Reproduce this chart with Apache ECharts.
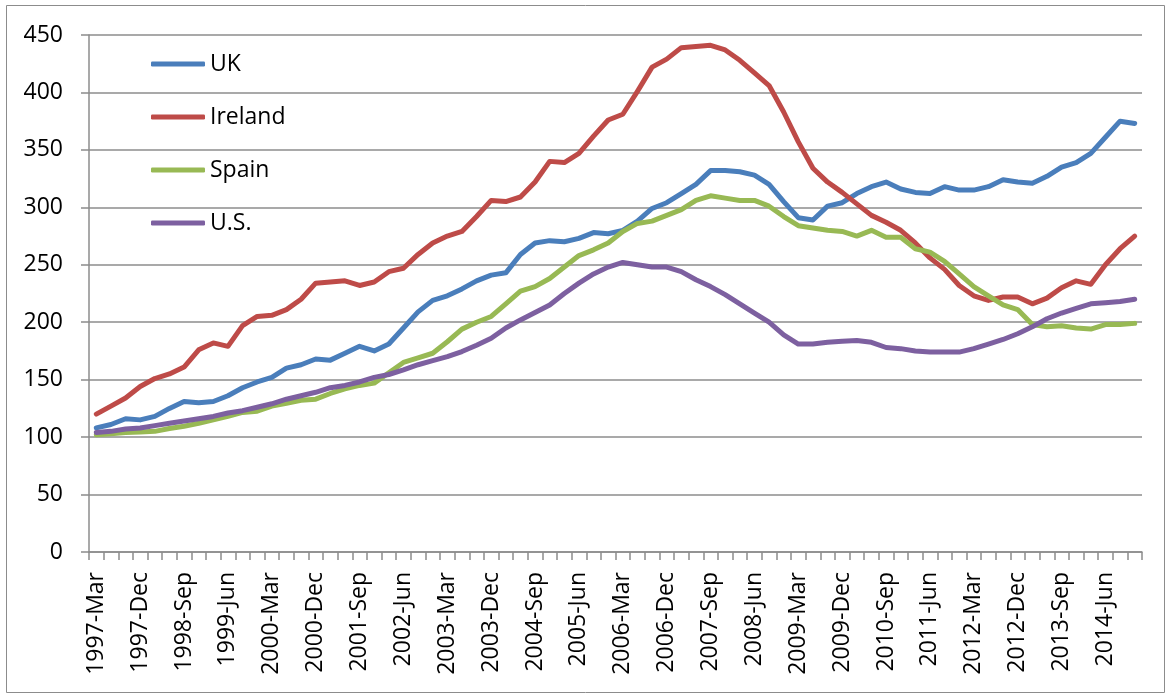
<!DOCTYPE html>
<html>
<head>
<meta charset="utf-8">
<script src="https://cdn.jsdelivr.net/npm/echarts@6/dist/echarts.min.js"></script>
<style>
html,body{margin:0;padding:0;background:#fff;}
#chart{width:1170px;height:697px;}
</style>
</head>
<body>
<div id="chart"></div>
<script>
const categories = [
"1997-Mar","1997-Jun","1997-Sep","1997-Dec",
"1998-Mar","1998-Jun","1998-Sep","1998-Dec",
"1999-Mar","1999-Jun","1999-Sep","1999-Dec",
"2000-Mar","2000-Jun","2000-Sep","2000-Dec",
"2001-Mar","2001-Jun","2001-Sep","2001-Dec",
"2002-Mar","2002-Jun","2002-Sep","2002-Dec",
"2003-Mar","2003-Jun","2003-Sep","2003-Dec",
"2004-Mar","2004-Jun","2004-Sep","2004-Dec",
"2005-Mar","2005-Jun","2005-Sep","2005-Dec",
"2006-Mar","2006-Jun","2006-Sep","2006-Dec",
"2007-Mar","2007-Jun","2007-Sep","2007-Dec",
"2008-Mar","2008-Jun","2008-Sep","2008-Dec",
"2009-Mar","2009-Jun","2009-Sep","2009-Dec",
"2010-Mar","2010-Jun","2010-Sep","2010-Dec",
"2011-Mar","2011-Jun","2011-Sep","2011-Dec",
"2012-Mar","2012-Jun","2012-Sep","2012-Dec",
"2013-Mar","2013-Jun","2013-Sep","2013-Dec",
"2014-Mar","2014-Jun","2014-Sep","2014-Dec"
];

const uk = [108,111,116,115,118,125,131,130,131,136,143,148,152,
  160,163,168,167,173,179,175,181,195,209,219,223,
  229,236,241,243,259,269,271,270,273,278,277,280,288,
  299,304,312,320,332,332,331,328,320,305,
  291,289,301,304,312,318,322,316,313,312,318,315,
  315,318,324,322,321,327,335,339,347,361,375,373];

const ireland = [120,127,134,144,151,155,161,176,182,179,197,205,206,
  211,220,234,235,236,232,235,244,247,259,269,275,
  279,292,306,305,309,322,340,339,347,362,376,381,401,
  422,429,439,440,441,437,428,417,406,383,
  357,334,322,313,303,293,287,280,269,256,246,232,
  223,219,222,222,216,221,230,236,233,250,264,275];

const spain = [102,103,104,104.5,105,107.5,109.5,112,115,118,121.5,122.5,127,
  129.5,132,133,138,142,145,147,156,165,169,173,183,
  194,200,205,216,227,231,238,248,258,263,269,279,286,
  288,293,298,306,310,308,306,306,301,292,
  284,282,280,279,275,280,274,274,264,261,253,242,
  231,223,215,211,198,196,197,195,194,198,198,199];

const us = [104,105,107,108,110,112,114,116,118,121,123,126,129,
  133,136,139,143,145,148,152,154.5,158.5,163,166.5,170,
  174.5,180,186,195,202,208.5,215,225,234,242,248,252,250,
  248,248,244,237,231,224,216,208,200,189,
  181,181,182.5,183.5,184,182.5,178,177,175,174,174,174,
  177,181,185,190,196,203,208,212,216,217,218,220];

const seriesNames = ["UK","Ireland","Spain","U.S."];
const seriesColors = ["#4A7EBB","#BE4B48","#98B954","#7D60A0"];
const seriesData = [uk, ireland, spain, us];

const FONT = "Open Sans";
const chart = echarts.init(document.getElementById('chart'), null, {renderer:'canvas'});
chart.setOption({
  animation:false,
  backgroundColor:'#ffffff',
  graphic:[{
    type:'rect',
    shape:{x:6.5,y:5.5,width:1158,height:687},
    style:{fill:'none',stroke:'#8c8c8c',lineWidth:1},
    silent:true
  }],
  grid:{left:89,right:28,top:35,bottom:145,containLabel:false},
  legend:{
    orient:'vertical',
    left:151, top:49, padding:0,
    itemWidth:54, itemHeight:5, itemGap:23,
    icon:'roundRect',
    textStyle:{fontFamily:FONT,fontSize:23,color:'#000',lineHeight:30},
    data:seriesNames
  },
  xAxis:{
    type:'category',
    data:categories,
    boundaryGap:true,
    axisLine:{show:true,lineStyle:{color:'#8c8c8c',width:1.5}},
    axisTick:{show:true,interval:0,length:8,inside:false,lineStyle:{color:'#8c8c8c',width:1.5}},
    axisLabel:{interval:2,rotate:90,margin:20,fontFamily:FONT,fontSize:23,color:'#000'},
    splitLine:{show:false}
  },
  yAxis:{
    type:'value',
    min:0,max:450,interval:50,
    axisLine:{show:true,lineStyle:{color:'#8c8c8c',width:1.5}},
    axisTick:{show:true,length:8,lineStyle:{color:'#8c8c8c',width:1.5}},
    axisLabel:{margin:26,fontFamily:FONT,fontSize:23,color:'#000'},
    splitLine:{show:true,lineStyle:{color:'#8c8c8c',width:1.5}}
  },
  series: seriesNames.map((n,k)=>({
    name:n,
    type:'line',
    data:seriesData[k],
    symbol:'none',
    smooth:false,
    color:seriesColors[k],
    lineStyle:{color:seriesColors[k],width:5,cap:'round',join:'round'}
  }))
});
</script>
</body>
</html>
